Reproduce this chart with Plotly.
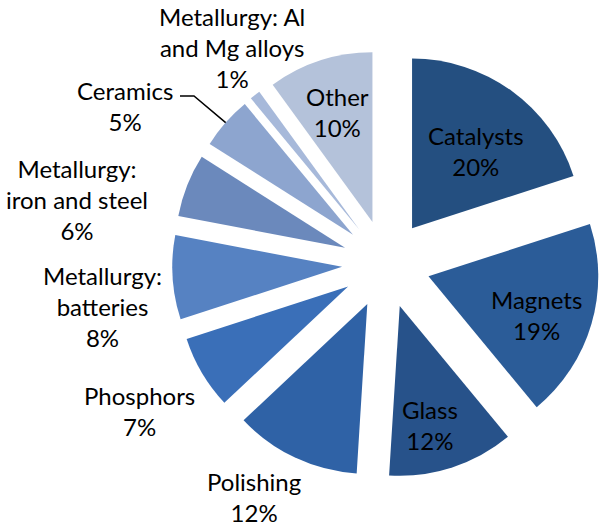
import math
import plotly.graph_objects as go

labels = ["Catalysts", "Magnets", "Glass", "Polishing", "Phosphors",
          "Metallurgy:<br>batteries", "Metallurgy:<br>iron and steel",
          "Ceramics", "Metallurgy: Al<br>and Mg alloys", "Other"]
values = [20, 19, 12, 12, 7, 8, 6, 5, 1, 10]
colors = ["#244F80", "#2B5C98", "#27528A", "#2F62A6", "#3A6FB8",
          "#5682C2", "#6B89BC", "#8DA5CF", "#A7B9DA", "#B4C2DA"]

# label centres (layout, in pixels of the 600x526 figure)
label_px = [(476, 151), (536, 315), (430, 425), (254, 497), (139, 411),
            (102, 306), (77, 200), (125, 106), (232, 47), (337, 112)]

W, H = 600, 526
PULL = 0.26
dom_x = [0.287, 1.0]
dom_y = [0.091, 0.905]

fig = go.Figure(go.Pie(
    labels=labels,
    values=values,
    sort=False,
    direction="clockwise",
    rotation=0,
    pull=PULL,
    automargin=False,
    marker=dict(colors=colors, line=dict(width=0)),
    textinfo="none",
    domain=dict(x=dom_x, y=dom_y),
    showlegend=False,
    hoverinfo="label+percent",
))

total = sum(values)
for lab, v, (px, py) in zip(labels, values, label_px):
    fig.add_annotation(
        x=px / W, y=1 - py / H, xref="paper", yref="paper",
        text=f"{lab}<br>{v / total * 100:.0f}%",
        showarrow=False, xanchor="center", yanchor="middle",
        font=dict(family="Lato", size=24, color="#000000"),
    )

# leader line for the Ceramics label, ending at the slice's outer arc midpoint
cx = W * (dom_x[0] + dom_x[1]) / 2
box_h = H * (dom_y[1] - dom_y[0])
cy = H * (1 - dom_y[0]) - box_h / 2
r = min(W * (dom_x[1] - dom_x[0]), box_h) / 2 / (1 + PULL)
idx = labels.index("Ceramics")
start = sum(values[:idx]) / total * 360
mid = math.radians(start + values[idx] / total * 360 / 2)
ex = cx + r * (1 + PULL) * math.sin(mid)
ey = cy - r * (1 + PULL) * math.cos(mid)
pts = [(180, 96), (194, 96), (ex, ey)]
path = "M " + " L ".join(f"{x / W:.4f},{1 - y / H:.4f}" for x, y in pts)
fig.add_shape(type="path", xref="paper", yref="paper", path=path,
              line=dict(color="#000000", width=1.5))

fig.update_layout(
    width=W, height=H,
    margin=dict(l=0, r=0, t=0, b=0, autoexpand=False),
    paper_bgcolor="white",
    plot_bgcolor="white",
)

fig.write_html("out.html", config={"displayModeBar": False},
               post_script="document.body.style.margin='0';")
